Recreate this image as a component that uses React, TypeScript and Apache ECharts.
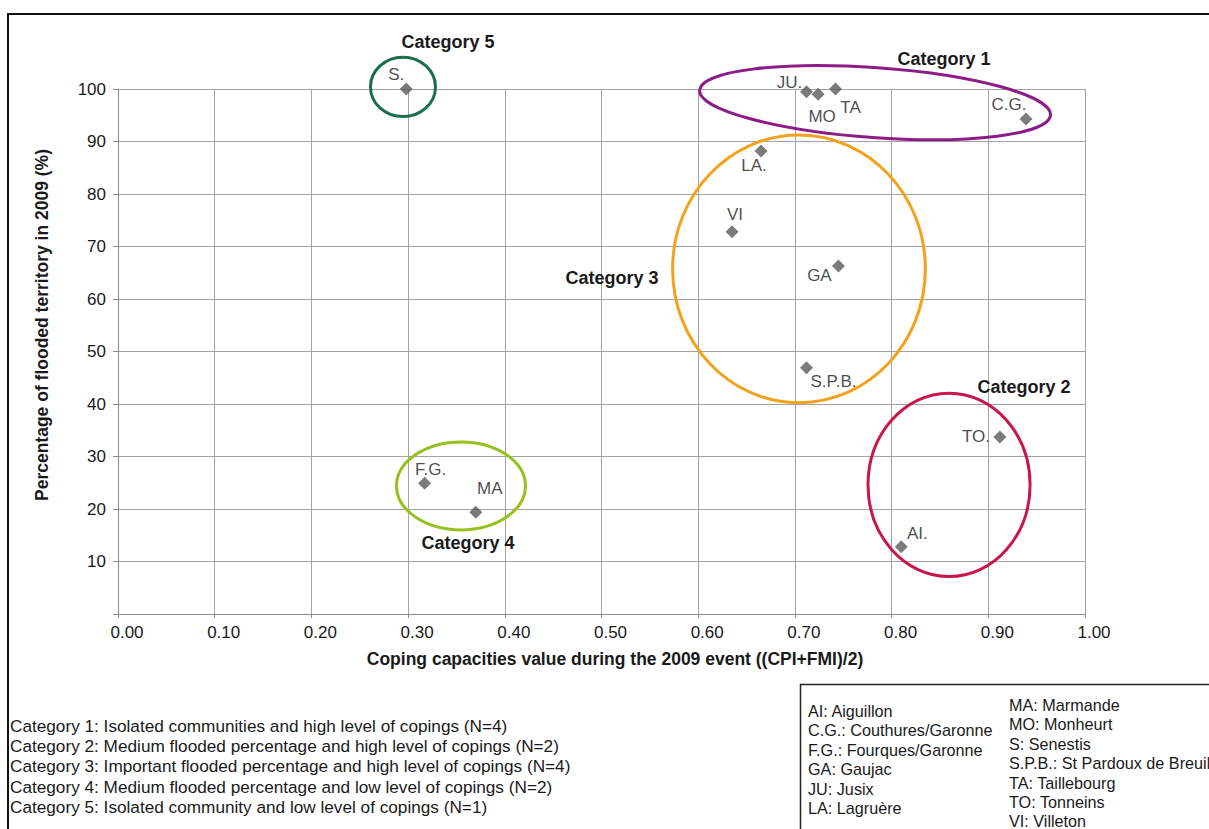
import React, { useEffect, useRef } from "react";
import * as echarts from "echarts";

// ---- Data ----
const pointNames = ["S.", "JU.", "MO", "TA", "C.G.", "LA.", "VI", "GA", "S.P.B.", "TO.", "AI.", "F.G.", "MA"];
const copingValues = [0.298, 0.712, 0.724, 0.742, 0.939, 0.665, 0.635, 0.745, 0.712, 0.912, 0.81, 0.317, 0.37];
const floodedPct = [100, 99.5, 99.0, 100, 94.3, 88.2, 72.8, 66.3, 46.9, 33.7, 12.8, 24.9, 19.4];
// label offsets (px) relative to each marker
const labelOffsets = [
  [-10, -15], [-17, -9], [4, 22], [15, 18], [-17, -14], [-7, 15], [3, -17],
  [-19, 10], [27, 14], [-24, -1], [16, -13], [6, -14], [14, -24],
];

const xTicks = { min: 0, max: 1, interval: 0.1 };
const yTicks = { min: 0, max: 100, interval: 10 };

const categoryNames = ["Category 1", "Category 2", "Category 3", "Category 4", "Category 5"];
// ellipse groups in data units: centre x, centre y, radius x, radius y, rotation (deg, clockwise on screen)
const groupCx = [0.7829, 0.8594, 0.7042, 0.3547, 0.2947];
const groupCy = [97.4, 24.6, 65.75, 24.4, 100.4];
const groupRx = [0.182, 0.0838, 0.1307, 0.0667, 0.0336];
const groupRy = [6.67, 17.47, 25.49, 8.38, 5.66];
const groupRot = [4.07, 0, 0, 0, 0];
const groupColors = ["#8c1d86", "#c8174a", "#f4a11c", "#96c11f", "#1b6e4b"];
const groupLabelX = [0.8542, 0.9369, 0.5109, 0.3619, 0.3412];
const groupLabelY = [105.8, 43.3, 64.0, 13.6, 109.0];

const categoryDescriptions = [
  "Category 1: Isolated communities and high level of copings (N=4)",
  "Category 2: Medium flooded percentage and high level of copings (N=2)",
  "Category 3: Important flooded percentage and high level of copings (N=4)",
  "Category 4: Medium flooded percentage and low level of copings (N=2)",
  "Category 5: Isolated community and low level of copings (N=1)",
];
const abbreviationsCol1 = [
  "AI: Aiguillon",
  "C.G.: Couthures/Garonne",
  "F.G.: Fourques/Garonne",
  "GA: Gaujac",
  "JU: Jusix",
  "LA: Lagruère",
];
const abbreviationsCol2 = [
  "MA: Marmande",
  "MO: Monheurt",
  "S: Senestis",
  "S.P.B.: St Pardoux de Breuil",
  "TA: Taillebourg",
  "TO: Tonneins",
  "VI: Villeton",
];

const xTitle = "Coping capacities value during the 2009 event ((CPI+FMI)/2)";
const yTitle = "Percentage of flooded territory in 2009 (%)";

const FONT = "'Liberation Sans', Arial, Helvetica, sans-serif";
const TXT = "#1a1a1a";

export default function App() {
  const ref = useRef<HTMLDivElement>(null);
  useEffect(() => {
    document.body.style.margin = "0";
    const chart = echarts.init(ref.current!, undefined, { renderer: "svg" });
    const gridColor = "#a3a3a3";
    chart.setOption({
      animation: false,
      backgroundColor: "#ffffff",
      textStyle: { fontFamily: FONT },
      grid: { left: 118, top: 89, right: 124, bottom: 215, containLabel: false },
      xAxis: {
        type: "value",
        min: xTicks.min,
        max: xTicks.max,
        interval: xTicks.interval,
        axisLine: { show: true, lineStyle: { color: "#8c8c8c", width: 1 } },
        axisTick: { show: true, length: 4, lineStyle: { color: "#8c8c8c" } },
        splitLine: { show: true, lineStyle: { color: gridColor, width: 1 } },
        axisLabel: {
          color: TXT,
          fontSize: 17,
          fontFamily: FONT,
          margin: 10,
          padding: [0, 0, 0, 18],
          formatter: (v: number) => v.toFixed(2),
        },
      },
      yAxis: {
        type: "value",
        min: yTicks.min,
        max: yTicks.max,
        interval: yTicks.interval,
        axisLine: { show: true, lineStyle: { color: "#8c8c8c", width: 1 } },
        axisTick: { show: true, length: 5, lineStyle: { color: "#8c8c8c" } },
        splitLine: { show: true, lineStyle: { color: gridColor, width: 1 } },
        axisLabel: {
          color: TXT,
          fontSize: 17,
          fontFamily: FONT,
          margin: 12,
          formatter: (v: number) => (v === 0 ? "" : String(v)),
        },
      },
      series: [
        {
          type: "scatter",
          symbol: "diamond",
          symbolSize: 13,
          itemStyle: { color: "#5a5a5a" },
          label: {
            show: true,
            position: "inside",
            formatter: "{b}",
            color: TXT,
            fontSize: 17,
            fontFamily: FONT,
          },
          data: pointNames.map((n, i) => ({
            name: n,
            value: [copingValues[i], floodedPct[i]],
            label: { offset: labelOffsets[i] },
          })),
          z: 5,
        },
      ],
    });

    const toPx = (x: number, y: number) => chart.convertToPixel({ gridIndex: 0 }, [x, y]) as number[];
    const graphics: any[] = [];

    // outer frame
    graphics.push({
      type: "rect",
      shape: { x: 8, y: 14, width: 1400, height: 1000 },
      style: { fill: "none", stroke: "#111", lineWidth: 2 },
      silent: true,
    });

    categoryNames.forEach((name, i) => {
      const c = toPx(groupCx[i], groupCy[i]);
      const e = toPx(groupCx[i] + groupRx[i], groupCy[i] + groupRy[i]);
      graphics.push({
        type: "ellipse",
        x: c[0],
        y: c[1],
        rotation: (-groupRot[i] * Math.PI) / 180,
        shape: { cx: 0, cy: 0, rx: Math.abs(e[0] - c[0]), ry: Math.abs(c[1] - e[1]) },
        style: { fill: "none", stroke: groupColors[i], lineWidth: 3 },
        z: 10,
        silent: true,
      });
      const l = toPx(groupLabelX[i], groupLabelY[i]);
      graphics.push({
        type: "text",
        x: l[0],
        y: l[1],
        style: {
          text: name,
          fill: TXT,
          fontSize: 18,
          fontWeight: "bold",
          fontFamily: FONT,
          align: "center",
          verticalAlign: "middle",
        },
        z: 11,
      });
    });

    // axis titles
    graphics.push({
      type: "text",
      x: 615,
      y: 659,
      style: { text: xTitle, fill: TXT, fontSize: 17.5, fontWeight: "bold", fontFamily: FONT, align: "center", verticalAlign: "middle" },
    });
    graphics.push({
      type: "text",
      x: 42,
      y: 325,
      rotation: Math.PI / 2,
      style: { text: yTitle, fill: TXT, fontSize: 17.5, fontWeight: "bold", fontFamily: FONT, align: "center", verticalAlign: "middle" },
    });

    // category descriptions
    categoryDescriptions.forEach((t, i) => {
      graphics.push({
        type: "text",
        x: 10,
        y: 726 + i * 20.2,
        style: { text: t, fill: TXT, fontSize: 17.2, fontFamily: FONT, align: "left", verticalAlign: "middle" },
      });
    });

    // abbreviation box
    graphics.push({
      type: "rect",
      shape: { x: 800.5, y: 684.5, width: 600, height: 400 },
      style: { fill: "none", stroke: "#222", lineWidth: 1.5 },
    });
    abbreviationsCol1.forEach((t, i) => {
      graphics.push({
        type: "text",
        x: 808,
        y: 711 + i * 19.4,
        style: { text: t, fill: TXT, fontSize: 16.2, fontFamily: FONT, align: "left", verticalAlign: "middle" },
      });
    });
    abbreviationsCol2.forEach((t, i) => {
      graphics.push({
        type: "text",
        x: 1009,
        y: 705 + i * 19.4,
        style: { text: t, fill: TXT, fontSize: 16.2, fontFamily: FONT, align: "left", verticalAlign: "middle" },
      });
    });

    chart.setOption({ graphic: graphics });
    return () => chart.dispose();
  }, []);
  return <div ref={ref} style={{ width: 1209, height: 829 }} />;
}
